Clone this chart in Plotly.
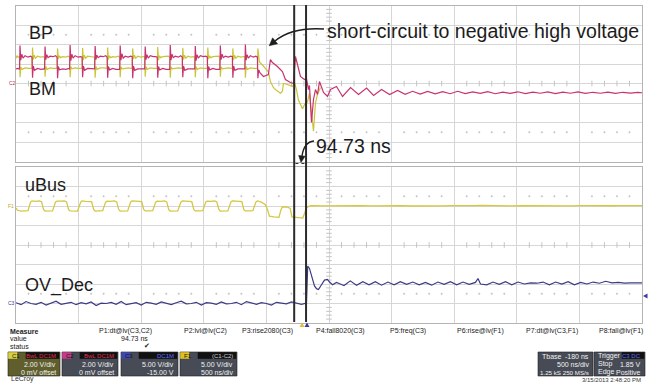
import plotly.graph_objects as go

# ---------------- data (time in ns, values in V) ----------------
bp_t = [0, 16,
        28, 32, 38, 46, 56, 72, 96, 116, 128, 132, 138, 148, 172, 198, 222,
        228, 232, 238, 246, 256, 272, 296, 316, 328, 332, 338, 348, 372, 398, 422,
        428, 432, 438, 446, 456, 472, 496, 516, 528, 532, 538, 548, 572, 598, 622,
        628, 632, 638, 646, 656, 672, 696, 716, 728, 732, 738, 748, 772, 798, 822,
        828, 832, 838, 846, 856, 872, 896, 916, 928, 932, 938, 948, 972, 998, 1022,
        1028, 1032, 1038, 1046, 1056, 1072, 1096, 1116, 1128, 1132, 1138, 1148, 1172, 1198, 1222,
        1228, 1232, 1238, 1246, 1256, 1272, 1296, 1316, 1328, 1332, 1338, 1348, 1372, 1398, 1422,
        1428, 1432, 1438, 1446, 1456, 1472, 1496, 1516, 1528, 1532, 1538, 1548, 1572, 1598, 1622,
        1628, 1632, 1638, 1646, 1656, 1672, 1696, 1716, 1728, 1732, 1738, 1748, 1772, 1798, 1822,
        1828, 1832, 1838, 1846, 1856, 1872, 1896, 1916, 1928, 1932, 1938, 1948, 1976, 2016,
        2032, 2048, 2088, 2128, 2152, 2192, 2216, 2232, 2248, 2272, 2304, 2320, 2336, 2344,
        2360, 2376, 2392, 2408, 2424, 2456, 2488, 2512, 2560, 2608, 2672, 2736, 2800, 2856,
        2920, 2984, 3048, 3108, 3168, 3228, 3288, 3348, 3408, 3468, 3528, 3588, 3648, 3708,
        3768, 3828, 3888, 3948, 4008, 4068, 4128, 4188, 4248, 4308, 4368, 4428, 4488, 4548,
        4608, 4668, 4728, 4788, 4848, 4908, 4968, 5000]
bp_v = [1.50, 1.55,
        1.45, 3.90, 2.40, 3.00, 2.60, 2.85, 2.70, 2.80, 2.70, 0.60, 1.80, 1.35, 1.55, 1.45, 1.50,
        1.45, 3.80, 2.45, 2.95, 2.65, 2.80, 2.75, 2.85, 2.70, 0.55, 1.75, 1.40, 1.50, 1.45, 1.55,
        1.45, 3.95, 2.35, 3.00, 2.60, 2.85, 2.70, 2.75, 2.70, 0.65, 1.80, 1.35, 1.55, 1.50, 1.45,
        1.50, 3.85, 2.45, 2.90, 2.65, 2.80, 2.75, 2.85, 2.70, 0.60, 1.75, 1.40, 1.55, 1.45, 1.50,
        1.45, 3.90, 2.40, 3.05, 2.60, 2.80, 2.70, 2.80, 2.75, 0.55, 1.80, 1.35, 1.50, 1.50, 1.45,
        1.50, 3.80, 2.45, 2.95, 2.60, 2.85, 2.75, 2.75, 2.70, 0.60, 1.75, 1.40, 1.55, 1.45, 1.50,
        1.45, 3.95, 2.40, 3.00, 2.65, 2.80, 2.70, 2.85, 2.70, 0.65, 1.80, 1.35, 1.50, 1.50, 1.45,
        1.50, 3.85, 2.35, 2.95, 2.60, 2.85, 2.75, 2.80, 2.70, 0.55, 1.75, 1.40, 1.55, 1.45, 1.50,
        1.45, 3.90, 2.45, 3.00, 2.65, 2.80, 2.70, 2.80, 2.75, 0.60, 1.80, 1.35, 1.50, 1.50, 1.45,
        1.50, 4.00, 2.40, 2.95, 2.60, 2.85, 2.70, 2.80, 2.70, 0.55, 1.40, 1.10, 0.72, 0.92,
        2.46, 2.15, 1.74, 1.23, 0.41, 0.10, 0.00, 2.77, 1.95, 0.72, 0.41, 0.50, -0.62, -0.20,
        -4.00, -1.64, -0.62, -1.13, 0.20, -0.92, -1.33, -0.62, -0.31, -1.33, -0.41, -1.13, -0.46, -1.23,
        -0.62, -1.13, -0.72, -1.10, -0.80, -1.08, -0.82, -1.06, -0.84, -1.05, -0.80, -1.04, -0.86, -1.02,
        -0.84, -1.05, -0.88, -1.02, -0.85, -1.04, -0.88, -1.00, -0.86, -1.03, -0.88, -1.00, -0.87, -1.02,
        -0.90, -1.00, -0.88, -1.02, -0.90, -0.99, -0.92, -0.95]

bm_t = [0, 8, 16, 28, 32, 38, 48, 72, 98, 122, 128,
        132, 138, 146, 156, 172, 196, 216, 228, 232, 238, 248, 272, 298, 322, 328,
        332, 338, 346, 356, 372, 396, 416, 428, 432, 438, 448, 472, 498, 522, 528,
        532, 538, 546, 556, 572, 596, 616, 628, 632, 638, 648, 672, 698, 722, 728,
        732, 738, 746, 756, 772, 796, 816, 828, 832, 838, 848, 872, 898, 922, 928,
        932, 938, 946, 956, 972, 996, 1016, 1028, 1032, 1038, 1048, 1072, 1098, 1122, 1128,
        1132, 1138, 1146, 1156, 1172, 1196, 1216, 1228, 1232, 1238, 1248, 1272, 1298, 1322, 1328,
        1332, 1338, 1346, 1356, 1372, 1396, 1416, 1428, 1432, 1438, 1448, 1472, 1498, 1522, 1528,
        1532, 1538, 1546, 1556, 1572, 1596, 1616, 1628, 1632, 1638, 1648, 1672, 1698, 1722, 1728,
        1732, 1738, 1746, 1756, 1772, 1796, 1816, 1828, 1832, 1838, 1848, 1872, 1898, 1922, 1928,
        1932, 1944, 1968, 2000, 2016, 2032, 2056, 2080, 2112, 2128, 2136, 2168, 2208, 2224,
        2240, 2256, 2288, 2312, 2328, 2344, 2360, 2376, 2392, 2408, 2432]
bm_v = [2.60, 2.85, 2.70, 2.75, 0.65, 1.70, 1.45, 1.60, 1.55, 1.60, 1.55,
        3.70, 2.45, 2.90, 2.60, 2.80, 2.70, 2.75, 2.70, 0.70, 1.75, 1.45, 1.60, 1.55, 1.60, 1.55,
        3.60, 2.50, 2.85, 2.65, 2.75, 2.70, 2.80, 2.70, 0.65, 1.70, 1.50, 1.60, 1.55, 1.60, 1.55,
        3.65, 2.40, 2.90, 2.60, 2.80, 2.75, 2.75, 2.70, 0.60, 1.75, 1.45, 1.60, 1.60, 1.55, 1.55,
        3.70, 2.45, 2.85, 2.65, 2.75, 2.70, 2.80, 2.70, 0.65, 1.70, 1.50, 1.55, 1.60, 1.55, 1.55,
        3.60, 2.50, 2.90, 2.60, 2.80, 2.70, 2.75, 2.75, 0.70, 1.75, 1.45, 1.60, 1.55, 1.60, 1.55,
        3.75, 2.40, 2.85, 2.65, 2.75, 2.75, 2.80, 2.70, 0.60, 1.70, 1.50, 1.55, 1.60, 1.55, 1.60,
        3.65, 2.45, 2.90, 2.60, 2.80, 2.70, 2.75, 2.70, 0.65, 1.75, 1.45, 1.60, 1.55, 1.60, 1.55,
        3.70, 2.50, 2.85, 2.65, 2.75, 2.75, 2.80, 2.70, 0.70, 1.70, 1.50, 1.55, 1.60, 1.55, 1.55,
        3.60, 2.40, 2.90, 2.60, 2.80, 2.70, 2.75, 2.75, 0.60, 1.75, 1.45, 1.60, 1.55, 1.60, 1.55,
        3.60, 2.20, 1.90, 1.50, 1.20, 0.20, -0.40, -0.70, -1.00, -0.80, 0.00, -0.10, -0.30, 0.10,
        -0.60, -1.70, -2.60, -2.00, -1.90, -1.00, -3.00, -4.90, -2.00, -1.10, -0.40]

ubus_t = [0, 12, 40, 70, 96,
          116, 128, 156, 186, 204, 220, 232, 266, 292,
          316, 328, 356, 386, 404, 420, 432, 466, 492,
          516, 528, 556, 586, 604, 620, 632, 666, 692,
          716, 728, 756, 786, 804, 820, 832, 866, 892,
          916, 928, 956, 986, 1004, 1020, 1032, 1066, 1092,
          1116, 1128, 1156, 1186, 1204, 1220, 1232, 1266, 1292,
          1316, 1328, 1356, 1386, 1404, 1420, 1432, 1466, 1492,
          1516, 1528, 1556, 1586, 1604, 1620, 1632, 1666, 1692,
          1716, 1728, 1756, 1786, 1804, 1820, 1832, 1866, 1892,
          1916, 1928, 1960, 1990, 2008, 2024, 2060, 2100, 2116, 2128, 2170, 2190, 2204,
          2260, 2290, 2304, 2316, 2336, 2360,
          2440, 2520, 2600, 2680, 2760, 2840, 2920, 3000, 3080, 3160, 3240, 3320, 3400,
          3480, 3560, 3640, 3720, 3800, 3880, 3960, 4040, 4120, 4200, 4280, 4360, 4440,
          4520, 4600, 4680, 4760, 4840, 4920, 5000]
ubus_v = [-0.50, -1.10, -1.30, -1.25, -1.20,
          1.00, 1.30, 1.20, 1.30, 1.10, -0.90, -1.30, -1.20, -1.25,
          1.05, 1.25, 1.25, 1.30, 1.05, -0.95, -1.25, -1.20, -1.30,
          0.95, 1.30, 1.20, 1.25, 1.10, -0.90, -1.30, -1.25, -1.20,
          1.00, 1.25, 1.20, 1.30, 1.05, -0.85, -1.30, -1.20, -1.25,
          1.05, 1.30, 1.25, 1.25, 1.10, -0.90, -1.25, -1.25, -1.20,
          1.00, 1.25, 1.20, 1.30, 1.05, -0.95, -1.30, -1.20, -1.25,
          0.95, 1.30, 1.25, 1.25, 1.10, -0.90, -1.25, -1.25, -1.20,
          1.05, 1.25, 1.20, 1.30, 1.05, -0.90, -1.30, -1.20, -1.25,
          1.00, 1.30, 1.25, 1.25, 1.10, -0.95, -1.25, -1.25, -1.20,
          1.00, 1.30, 1.00, 0.40, -0.80, -2.60, -2.80, -2.90, -1.00, -0.20, -0.30, -0.60, -2.80,
          -3.00, -3.10, -2.00, -0.60, -0.10, 0.10,
          0.05, 0.10, 0.00, 0.08, 0.12, 0.02, 0.10, 0.05, 0.10, 0.00, 0.08, 0.12, 0.05,
          0.10, 0.02, 0.08, 0.15, 0.05, 0.10, 0.03, 0.10, 0.06, 0.12, 0.04, 0.10, 0.05,
          0.09, 0.03, 0.10, 0.06, 0.10, 0.04, 0.08]

ov_t = [0, 40, 80, 120, 160, 200, 240, 280, 320, 360, 400, 440, 480, 520, 560, 600,
        640, 680, 720, 760, 800, 840, 880, 920, 960, 1000, 1040, 1080, 1120, 1160, 1200,
        1240, 1280, 1320, 1360, 1400, 1440, 1480, 1520, 1560, 1600, 1640, 1680, 1720, 1760,
        1800, 1840, 1880, 1920, 1960, 2000, 2040, 2080, 2120, 2160, 2200, 2240, 2280, 2320,
        2330, 2344, 2360, 2384, 2400, 2416, 2440, 2464, 2488, 2504, 2528, 2560, 2590, 2620,
        2670, 2720, 2770, 2820, 2870, 2920, 2970, 3020, 3070, 3120, 3170, 3220, 3270, 3320,
        3370, 3420, 3470, 3520, 3570, 3620, 3670, 3690, 3710, 3760, 3810, 3860, 3910, 3960,
        4010, 4060, 4110, 4160, 4210, 4260, 4310, 4360, 4410, 4460, 4510, 4560, 4610, 4660,
        4710, 4760, 4810, 4860, 4910, 4960, 5000]
ov_v = [0.2, -0.3, 0.5, 0.0, -0.2, 0.3, -0.4, 0.1, 0.6, -0.2, 0.0, 0.3, -0.3, 0.2, -0.1, 0.4,
        -0.5, 0.1, 0.0, 0.3, -0.2, 0.5, -0.3, 0.0, 0.2, -0.4, 0.3, 0.1, -0.2, 0.4, 0.0,
        -0.3, 0.2, 0.6, -0.1, 0.0, 0.3, -0.4, 0.2, 0.1, -0.2, 0.4, -0.1, 0.0, 0.3,
        -0.3, 0.5, 0.1, -0.2, 0.2, 0.0, -0.4, 0.3, 0.1, -0.1, 0.4, 0.0, -0.2, 0.1,
        9.6, 9.0, 7.0, 4.5, 3.8, 3.6, 4.8, 6.0, 6.2, 5.5, 4.8, 5.4, 5.0, 4.6,
        5.8, 4.7, 5.6, 4.8, 5.6, 4.7, 5.5, 4.8, 5.6, 4.9, 5.5, 4.8, 5.4, 4.7,
        5.5, 4.9, 5.6, 4.8, 5.5, 4.9, 5.4, 6.4, 5.0, 4.8, 5.5, 4.9, 5.6, 4.8,
        5.5, 5.0, 5.3, 5.2, 5.5, 4.8, 5.5, 5.0, 5.6, 4.8, 5.4, 5.0, 5.5, 5.2,
        5.7, 5.3, 5.4, 5.2, 5.3, 5.4, 5.3]

cursor_t = [2222.0, 2222.0 + 94.73]
labels = ["BP", "BM", "uBus", "OV_Dec"]
measure_heads = ["P1:dt@lv(C3,C2)", "P2:lvl@lv(C2)", "P3:rise2080(C3)", "P4:fall8020(C3)",
                 "P5:freq(C3)", "P6:rise@lv(F1)", "P7:dt@lv(C3,F1)", "P8:fall@lv(F1)"]

# ---------------- styling ----------------
W, H = 659, 383
def PX(x): return x / W
def PY(y): return 1 - y / H

MAG = "#c8336f"
YEL = "#c9c53a"
UB = "#d6c640"
NAVY = "#3b3b86"
GRID = "#d6d6d6"
DOT = "#c4c4c4"
FONT = "Liberation Sans, Arial, sans-serif"

fig = go.Figure()

# grid decorations (dots / ticks)
def deco(xa, ya, xs, ys, sym, size):
    fig.add_trace(go.Scatter(x=xs, y=ys, xaxis=xa, yaxis=ya, mode="markers",
                             marker=dict(symbol=sym, size=size, color=DOT,
                                         line=dict(width=1, color=DOT)),
                             hoverinfo="skip", showlegend=False))

sub_x = [i * 100 for i in range(51) if i % 5 != 0]
# top panel
deco("x", "y", sub_x, [0] * len(sub_x), "line-ns", 4)
deco("x", "y", sub_x * 2, [5.0] * len(sub_x) + [-5.0] * len(sub_x), "circle", 1.2)
sub_y_top = [-8 + i * 0.4 for i in range(41) if i % 5 != 0]
deco("x", "y", [2500] * len(sub_y_top), sub_y_top, "line-ew", 4)
# bottom panel
deco("x2", "y2", sub_x, [15] * len(sub_x), "line-ns", 4)
deco("x2", "y2", sub_x * 2, [27.5] * len(sub_x) + [2.5] * len(sub_x), "circle", 1.2)
sub_y_bot = [-5 + i * 1.0 for i in range(41) if i % 5 != 0]
deco("x2", "y2", [2500] * len(sub_y_bot), sub_y_bot, "line-ew", 4)

# traces
fig.add_trace(go.Scatter(x=bm_t, y=bm_v, xaxis="x", yaxis="y", mode="lines",
                         line=dict(color=YEL, width=1.2), hoverinfo="skip", showlegend=False))
fig.add_trace(go.Scatter(x=bp_t, y=bp_v, xaxis="x", yaxis="y", mode="lines",
                         line=dict(color=MAG, width=1.2), hoverinfo="skip", showlegend=False))
fig.add_trace(go.Scatter(x=ubus_t, y=ubus_v, xaxis="x2", yaxis="y3", mode="lines",
                         line=dict(color=UB, width=1.3), hoverinfo="skip", showlegend=False))
fig.add_trace(go.Scatter(x=ov_t, y=ov_v, xaxis="x2", yaxis="y2", mode="lines",
                         line=dict(color=NAVY, width=1.2), hoverinfo="skip", showlegend=False))

ax_common = dict(showticklabels=False, ticks="", zeroline=False, showgrid=True,
                 gridcolor=GRID, gridwidth=1, showline=True, mirror=True,
                 linecolor="#b4b4b4", linewidth=1, fixedrange=True)
dom_x = [PX(16), PX(642)]
fig.update_layout(
    width=W, height=H, margin=dict(l=0, r=0, t=0, b=0),
    paper_bgcolor="white", plot_bgcolor="white", showlegend=False,
    xaxis=dict(domain=dom_x, range=[0, 5000], dtick=500, anchor="y", **ax_common),
    yaxis=dict(domain=[PY(161.5), PY(5.5)], range=[-8, 8], dtick=2, anchor="x", **ax_common),
    xaxis2=dict(domain=dom_x, range=[0, 5000], dtick=500, anchor="y2", **ax_common),
    yaxis2=dict(domain=[PY(323), PY(167)], range=[-5, 35], dtick=5, anchor="x2", **ax_common),
    yaxis3=dict(overlaying="y2", range=[-30, 10], visible=False, anchor="x2", fixedrange=True),
)

shapes = []
# cursors
for ct in cursor_t:
    shapes.append(dict(type="line", xref="x", yref="paper", x0=ct, x1=ct,
                       y0=PY(322), y1=PY(5), line=dict(color="#2b2b2b", width=2)))
# cursor delta marker
shapes.append(dict(type="line", xref="x", yref="paper", x0=cursor_t[0] + 10, x1=cursor_t[1] - 10,
                   y0=PY(163.5), y1=PY(163.5), line=dict(color="#333", width=1, dash="dot")))

def path(pts, close=False):
    s = "M " + " L ".join(f"{PX(x):.5f},{PY(y):.5f}" for x, y in pts)
    return s + (" Z" if close else "")

def qpath(p0, c, p1):
    return (f"M {PX(p0[0]):.5f},{PY(p0[1]):.5f} Q {PX(c[0]):.5f},{PY(c[1]):.5f} "
            f"{PX(p1[0]):.5f},{PY(p1[1]):.5f}")

# curved arrow to "short-circuit" text
shapes.append(dict(type="path", xref="paper", yref="paper",
                   path=qpath((324, 29), (292, 27), (275, 41)),
                   line=dict(color="#1e1e1e", width=1.6)))
shapes.append(dict(type="path", xref="paper", yref="paper",
                   path=path([(269.2, 45.8), (277.6, 43.8), (272.6, 37.8)], True),
                   fillcolor="#1e1e1e", line=dict(color="#1e1e1e", width=0.5)))
# curved arrow for 94.73 ns
shapes.append(dict(type="path", xref="paper", yref="paper",
                   path=qpath((314, 141), (304, 142), (302, 156)),
                   line=dict(color="#1e1e1e", width=1.4)))
shapes.append(dict(type="path", xref="paper", yref="paper",
                   path=path([(301.0, 162.5), (305.2, 156.2), (298.6, 155.4)], True),
                   fillcolor="#1e1e1e", line=dict(color="#1e1e1e", width=0.5)))

# bottom markers
shapes.append(dict(type="path", xref="paper", yref="paper",
                   path=path([(299.5, 327), (304.5, 327), (302, 322.5)], True),
                   fillcolor="#e0c030", line=dict(width=0)))
shapes.append(dict(type="path", xref="paper", yref="paper",
                   path=path([(304.5, 327), (309.5, 327), (307, 322.5)], True),
                   fillcolor="#3a3aa0", line=dict(width=0)))
shapes.append(dict(type="path", xref="paper", yref="paper",
                   path=path([(643, 296), (647.5, 293.5), (647.5, 298.5)], True),
                   fillcolor="#3a3aa0", line=dict(width=0)))

# channel boxes
def box(x0, x1, y0, y1, fill, line="#222"):
    shapes.append(dict(type="rect", xref="paper", yref="paper", x0=PX(x0), x1=PX(x1),
                       y0=PY(y1), y1=PY(y0), fillcolor=fill, line=dict(color=line, width=0.6)))

ch_boxes = [(8, 60, "#5f5e2c", "#d8d040", "C1", "BwL DC1M", "#e03050", "2.00 V/div", "0 mV offset"),
            (62, 118, "#474b55", "#c83a8a", "C2", "BwL DC1M", "#e03050", "2.00 V/div", "0 mV offset"),
            (121, 178, "#474b55", "#4048b0", "C3", "DC1M", "#6070ff", "5.00 V/div", "-15.00 V"),
            (180, 237, "#474b55", "#e0c020", "F1", "(C1-C2)", "#d0d0d0", "5.00 V/div", "500 ns/div")]
annots = []
def txt(x, y, s, size=7, color="#222", xa="left", bold=False, fam=FONT):
    annots.append(dict(x=PX(x), y=PY(y), xref="paper", yref="paper", text=(f"<b>{s}</b>" if bold else s),
                       showarrow=False, xanchor=xa, yanchor="middle",
                       font=dict(size=size, color=color, family=fam)))

for x0, x1, bg, tag, tname, head, hcol, l1, l2 in ch_boxes:
    box(x0, x1, 352, 376, bg)
    box(x0 + 0.5, x0 + 9, 352.5, 358.5, tag, line=tag)
    box(x0 + 18, x1 - 1, 352.5, 358.5, "#111111", line="#111111")
    txt(x0 + 1.5, 355.5, tname, size=6, color="#111")
    txt(x1 - 2, 355.5, head, size=6, color=hcol, xa="right")
    txt(x1 - 2, 364, l1, size=7, color="#f2f2f2", xa="right")
    txt(x1 - 2, 372, l2, size=7, color="#f2f2f2", xa="right")

# timebase / trigger boxes
box(538, 593, 352, 376, "#474b55")
box(594, 645, 352, 376, "#474b55")
box(622, 644, 352.5, 358.5, "#111111", line="#111111")
txt(540, 356, "Tbase", size=7, color="#f2f2f2")
txt(591, 356, "-180 ns", size=7, color="#f2f2f2", xa="right")
txt(591, 364, "500 ns/div", size=7, color="#f2f2f2", xa="right")
txt(591, 372, "1.25 kS 250 MS/s", size=6.2, color="#f2f2f2", xa="right")
txt(596, 356, "Trigger", size=7, color="#f2f2f2")
txt(643, 356, "C3 DC", size=6, color="#6070ff", xa="right")
txt(596, 364, "Stop", size=7, color="#f2f2f2")
txt(643, 364, "1.85 V", size=7, color="#f2f2f2", xa="right")
txt(596, 372, "Edge", size=7, color="#f2f2f2")
txt(643, 372, "Positive", size=7, color="#f2f2f2", xa="right")
txt(643, 379.5, "3/15/2013 2:48:20 PM", size=6, color="#333", xa="right")
txt(9, 379, "LeCroy", size=7, color="#333")

# measure table
txt(8, 331, "Measure", size=7, color="#222", bold=True)
txt(8, 338.5, "value", size=7, color="#222")
txt(8, 346, "status", size=7, color="#222")
head_x = [125, 205, 267, 340, 408, 480, 552, 621]
for hx, hs in zip(head_x, measure_heads):
    txt(hx, 331, hs, size=7, color="#222", xa="center")
txt(150, 338.5, "94.73 ns", size=7, color="#222", xa="right")
txt(147, 346, "✔", size=7, color="#222", xa="center", fam="DejaVu Sans")

# big labels
big = dict(size=18, color="#1c1c1c", family=FONT)
for (lx, ly), s in zip([(27, 33), (27, 89), (23, 185), (23, 285)], labels):
    annots.append(dict(x=PX(lx), y=PY(ly), xref="paper", yref="paper", text=s, showarrow=False,
                       xanchor="left", yanchor="middle", font=big))
annots.append(dict(x=PX(325), y=PY(31), xref="paper", yref="paper",
                   text="short-circuit to negative high voltage", showarrow=False,
                   xanchor="left", yanchor="middle", font=dict(size=19.5, color="#1c1c1c", family=FONT)))
annots.append(dict(x=PX(314), y=PY(146), xref="paper", yref="paper",
                   text="94.73 ns", showarrow=False,
                   xanchor="left", yanchor="middle", font=dict(size=19.5, color="#1c1c1c", family=FONT)))
# tiny channel markers at left edge
txt(7, 83, "C2", size=5, color="#c03050")
txt(6, 206, "F1", size=5, color="#b8a820")
txt(6, 303, "C3", size=5, color="#3a3aa0")

fig.update_layout(shapes=shapes, annotations=annots)
fig.write_html("out.html")
